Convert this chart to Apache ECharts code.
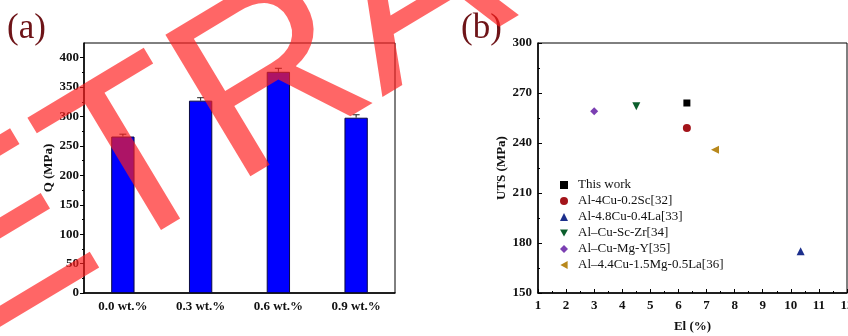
<!DOCTYPE html>
<html>
<head>
<meta charset="utf-8">
<script src="https://cdn.jsdelivr.net/npm/echarts@6/dist/echarts.min.js"></script>
<style>
  html, body { margin: 0; padding: 0; background: #fff; }
  #chart { width: 848px; height: 336px; }
</style>
</head>
<body>
<div id="chart"></div>
<script>
// panel (a): strength vs. addition
const categories = ['0.0 wt.%', '0.3 wt.%', '0.6 wt.%', '0.9 wt.%'];
const strength = [266, 327, 376, 298];
const strengthErr = [4, 5, 6, 5];
const qTicks = [0, 50, 100, 150, 200, 250, 300, 350, 400];
const qMinorTicks = [25, 75, 125, 175, 225, 275, 325, 375];

// panel (b): UTS vs. elongation, compared with literature
const materials = ['This work', 'Al-4Cu-0.2Sc[32]', 'Al-4.8Cu-0.4La[33]', 'Al\u2013Cu-Sc-Zr[34]', 'Al\u2013Cu-Mg-Y[35]', 'Al\u20134.4Cu-1.5Mg-0.5La[36]'];
const elongation = [6.3, 6.3, 10.35, 4.5, 3.0, 7.3];
const uts = [264, 249, 175, 262, 259, 236];
const markerShapes = [
  'rect',
  'circle',
  'triangle',
  'path://M0,0 L10,0 L5,9 Z',   // down triangle
  'diamond',
  'path://M9,0 L9,10 L0,5 Z'    // left triangle
];
const markerColors = ['#000000', '#a3141a', '#1c2f8c', '#0b5e2c', '#7b3fb2', '#b8881c'];

const SERIF = '"Liberation Serif", "DejaVu Serif", serif';
const tickFont = { fontFamily: SERIF, fontSize: 13, fontWeight: 'bold', color: '#111' };
const nameFont = { fontFamily: SERIF, fontSize: 13, fontWeight: 'bold', color: '#111' };

const chart = echarts.init(document.getElementById('chart'), null, { renderer: 'canvas' });

const scatterSeries = materials.map((name, i) => ({
  name: name,
  type: 'scatter',
  xAxisIndex: 1,
  yAxisIndex: 2,
  symbol: markerShapes[i],
  symbolSize: markerShapes[i] === 'rect' ? 7 : 8,
  itemStyle: { color: markerColors[i], opacity: 1 },
  data: [[elongation[i], uts[i]]],
  z: 5
}));

const option = {
  backgroundColor: '#fff',
  animation: false,
  grid: [
    { left: 84, top: 43, width: 311, height: 250, show: true, borderColor: '#000', borderWidth: 1, outerBoundsMode: 'none' },
    { left: 538, top: 43, width: 309, height: 250, show: true, borderColor: '#000', borderWidth: 1, outerBoundsMode: 'none' }
  ],
  legend: {
    orient: 'vertical',
    left: 555,
    top: 172,
    itemWidth: 8,
    itemHeight: 8,
    itemGap: 0,
    data: materials,
    textStyle: { fontFamily: SERIF, fontSize: 13, color: '#111', lineHeight: 16, padding: [0, 0, 0, 5] }
  },
  xAxis: [
    {
      type: 'category',
      gridIndex: 0,
      data: categories,
      axisLine: { lineStyle: { color: '#000', width: 1.5 } },
      axisTick: { show: false },
      axisLabel: Object.assign({ margin: 7 }, tickFont)
    },
    {
      type: 'value',
      gridIndex: 1,
      min: 1,
      max: 12,
      interval: 1,
      name: 'El (%)',
      nameLocation: 'middle',
      nameGap: 27,
      nameTextStyle: nameFont,
      axisLine: { lineStyle: { color: '#000', width: 1.5 } },
      axisTick: { inside: true, length: 4, lineStyle: { color: '#000' } },
      minorTick: { show: true, splitNumber: 2, length: 2, lineStyle: { color: '#000' } },
      splitLine: { show: false },
      axisLabel: Object.assign({ margin: 6 }, tickFont)
    }
  ],
  yAxis: [
    {
      type: 'value',
      gridIndex: 0,
      position: 'left',
      min: 0,
      max: 425,
      name: 'Q (MPa)',
      nameLocation: 'middle',
      nameGap: 24,
      nameTextStyle: nameFont,
      axisLine: { show: true, lineStyle: { color: '#000', width: 1.5 } },
      axisTick: { show: true, length: 4, customValues: qTicks, lineStyle: { color: '#000' } },
      axisLabel: Object.assign({ margin: 5, customValues: qTicks }, tickFont),
      splitLine: { show: false }
    },
    {
      type: 'value',
      gridIndex: 0,
      position: 'left',
      min: 0,
      max: 425,
      axisLine: { show: false },
      axisTick: { show: true, length: 2, customValues: qMinorTicks, lineStyle: { color: '#000' } },
      axisLabel: { show: false },
      splitLine: { show: false }
    },
    {
      type: 'value',
      gridIndex: 1,
      min: 150,
      max: 300,
      interval: 30,
      name: 'UTS (MPa)',
      nameLocation: 'middle',
      nameGap: 24,
      nameTextStyle: nameFont,
      axisLine: { show: true, lineStyle: { color: '#000', width: 1.5 } },
      axisTick: { inside: true, length: 4, lineStyle: { color: '#000' } },
      minorTick: { show: true, splitNumber: 2, length: 2, lineStyle: { color: '#000' } },
      splitLine: { show: false },
      axisLabel: Object.assign({ margin: 6 }, tickFont)
    }
  ],
  series: [
    {
      name: 'Q',
      type: 'bar',
      xAxisIndex: 0,
      yAxisIndex: 0,
      data: strength,
      barWidth: '30%',
      itemStyle: { color: '#0000ff', borderColor: '#0a0a40', borderWidth: 1 }
    },
    {
      name: 'Q error',
      type: 'custom',
      xAxisIndex: 0,
      yAxisIndex: 0,
      data: strength.map((v, i) => [i, v, strengthErr[i]]),
      renderItem: (params, api) => {
        const i = api.value(0);
        const v = api.value(1);
        const e = api.value(2);
        const top = api.coord([i, v + e]);
        const mid = api.coord([i, v]);
        const half = 3.5;
        return {
          type: 'group',
          children: [
            { type: 'line', shape: { x1: mid[0], y1: mid[1], x2: top[0], y2: top[1] }, style: { stroke: '#222', lineWidth: 1 } },
            { type: 'line', shape: { x1: top[0] - half, y1: top[1], x2: top[0] + half, y2: top[1] }, style: { stroke: '#222', lineWidth: 1 } }
          ]
        };
      },
      z: 4
    }
  ].concat(scatterSeries),
  graphic: [
    {
      type: 'text',
      left: 7,
      top: 11,
      style: { text: '(a)', fontFamily: SERIF, fontSize: 35, fill: '#6e1418' }
    },
    {
      type: 'text',
      left: 461,
      top: 11,
      style: { text: '(b)', fontFamily: SERIF, fontSize: 35, fill: '#6e1418' }
    },
    {
      type: 'text',
      x: -212,
      y: 377,
      rotation: 31 * Math.PI / 180,
      z: 100,
      silent: true,
      style: {
        text: 'RETRACTED',
        fontFamily: '"Liberation Sans", Arial, sans-serif',
        fontSize: 240,
        textAlign: 'left',
        textVerticalAlign: 'middle',
        fill: 'rgba(255, 30, 30, 0.68)'
      }
    }
  ]
};

chart.setOption(option);
</script>
</body>
</html>
